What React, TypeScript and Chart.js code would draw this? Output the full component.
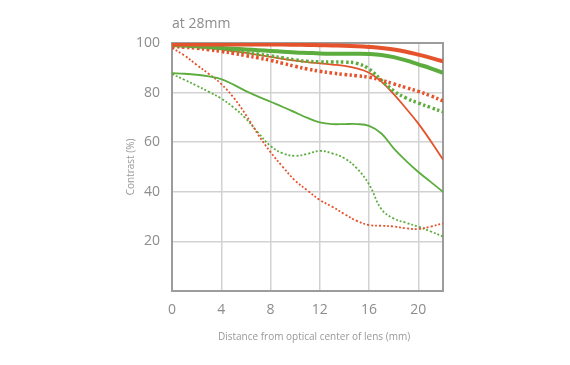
import React, { useEffect, useRef } from "react";
import { Chart, registerables } from "chart.js";

Chart.register(...registerables);

const titleText = "at 28mm";
const xTitle = "Distance from optical center of lens (mm)";
const yTitle = "Contrast (%)";

const distances = [0, 1, 2, 3, 4, 5, 6, 7, 8, 9, 10, 11, 12, 13, 14, 15, 16, 17, 18, 19, 20, 21, 22];
const xTicks = [0, 4, 8, 12, 16, 20];
const yTicks = [20, 40, 60, 80, 100];

const redThickSolid = [99.4, 99.4, 99.4, 99.4, 99.4, 99.4, 99.4, 99.4, 99.4, 99.4, 99.3, 99.2, 99.1, 99, 98.9, 98.7, 98.4, 98, 97.4, 96.5, 95.3, 94, 92.6];
const greenThickSolid = [99.2, 99, 98.7, 98.4, 98, 97.7, 97.4, 97.1, 96.8, 96.5, 96.2, 96, 95.8, 95.7, 95.7, 95.7, 95.6, 95.2, 94.3, 93, 91.4, 89.8, 88];
const redThickDotted = [98.6, 98.3, 97.9, 97.3, 96.6, 95.8, 94.9, 94, 93, 91.8, 90.6, 89.5, 88.6, 87.9, 87.3, 86.8, 86.2, 85, 83.5, 82, 80.5, 78.7, 76.7];
const greenThickDotted = [99, 98.8, 98.4, 97.9, 97.4, 96.8, 96.1, 95.5, 94.8, 94, 93.2, 92.6, 92.4, 92.3, 92.3, 91.8, 89.5, 85, 80.7, 77.8, 75.8, 74, 72.2];
const redThinSolid = [99, 98.7, 98.3, 97.9, 97.4, 96.7, 96, 95.2, 94.4, 93.6, 92.9, 92.3, 91.8, 91.3, 90.8, 89.8, 88, 84.4, 79.4, 73.6, 67.5, 60.5, 53];
const greenThinSolid = [87.8, 87.6, 87.2, 86.5, 85.4, 83.2, 80.6, 78.4, 76.3, 74.2, 72, 69.8, 68, 67.3, 67.3, 67.3, 66.6, 63.5, 57.5, 52.5, 48, 44, 40];
const redThinDotted = [98, 95, 91.2, 87.5, 83.5, 78, 71, 63, 56, 50, 44.5, 40.5, 36.7, 34, 31, 28.3, 26.6, 26.3, 26, 25.3, 25, 26, 27.3];
const greenThinDotted = [87.5, 85.2, 82.8, 80.3, 77.6, 74, 69.5, 63.8, 58.5, 55.5, 54.5, 55.3, 56.5, 55.5, 53.5, 49.5, 43, 33, 29.2, 27.5, 25.9, 24, 22];

const RED = "#e5532c";
const GREEN = "#5cad3e";
const TEXT = "#8c8c8c";
const FONT = "'Open Sans', sans-serif";

const pts = (vals: number[]) => vals.map((v, i) => ({ x: distances[i], y: v }));

export default function App() {
  const ref = useRef<HTMLCanvasElement | null>(null);
  useEffect(() => {
    if (!ref.current) return;
    const mk = (label: string, vals: number[], color: string, width: number, dash: number[]) => ({
      label,
      data: pts(vals),
      borderColor: color,
      backgroundColor: color,
      borderWidth: width,
      borderDash: dash,
      pointRadius: 0,
      fill: false,
      tension: 0.4,
      borderCapStyle: "butt" as const,
    });
    const decor = {
      id: "decor",
      beforeDatasetsDraw(chart: any) {
        const { ctx, chartArea: a } = chart;
        ctx.save();
        ctx.strokeStyle = "#9c9c9c";
        ctx.lineWidth = 2;
        ctx.strokeRect(a.left, a.top, a.right - a.left, a.bottom - a.top);
        ctx.restore();
      },
      afterDraw(chart: any) {
        const { ctx, chartArea: a } = chart;
        ctx.save();
        ctx.fillStyle = TEXT;
        ctx.font = `14px ${FONT}`;
        ctx.textAlign = "left";
        ctx.textBaseline = "middle";
        ctx.fillText(titleText, a.left, 24);
        ctx.font = `10px ${FONT}`;
        ctx.fillStyle = "#999999";
        ctx.textAlign = "center";
        ctx.fillText(xTitle, 314, 337);
        ctx.translate(131, (a.top + a.bottom) / 2);
        ctx.rotate(-Math.PI / 2);
        ctx.fillText(yTitle, 0, 0);
        ctx.restore();
      },
    };
    const chart = new Chart(ref.current, {
      type: "line",
      data: {
        datasets: [
          mk("red thick solid", redThickSolid, RED, 4, []),
          mk("green thick solid", greenThickSolid, GREEN, 4, []),
          mk("red thick dotted", redThickDotted, RED, 3.5, [2.5, 2.5]),
          mk("green thick dotted", greenThickDotted, GREEN, 3.5, [2.5, 2.5]),
          mk("red thin solid", redThinSolid, RED, 1.8, []),
          mk("green thin solid", greenThinSolid, GREEN, 1.8, []),
          mk("red thin dotted", redThinDotted, RED, 1.8, [2, 2]),
          mk("green thin dotted", greenThinDotted, GREEN, 1.8, [2, 2]),
        ],
      },
      options: {
        animation: false,
        responsive: true,
        maintainAspectRatio: false,
        layout: { padding: { left: 0, right: 127, top: 43, bottom: 0 } },
        plugins: { legend: { display: false }, tooltip: { enabled: false }, title: { display: false } },
        scales: {
          x: {
            type: "linear",
            min: 0,
            max: 22,
            afterFit: (s: any) => { s.height = 74; },
            afterBuildTicks: (s: any) => { s.ticks = xTicks.map((v) => ({ value: v })); },
            grid: { color: "#d2d2d2", lineWidth: 1.5, drawTicks: false },
            border: { display: false },
            ticks: { color: TEXT, font: { family: FONT, size: 14 }, padding: 11, maxRotation: 0 },
          },
          y: {
            type: "linear",
            min: 0,
            max: 100,
            afterFit: (s: any) => { s.width = 172; },
            afterBuildTicks: (s: any) => { s.ticks = yTicks.map((v) => ({ value: v })); },
            grid: { color: "#d2d2d2", lineWidth: 1.5, drawTicks: false },
            border: { display: false },
            ticks: { color: TEXT, font: { family: FONT, size: 14 }, padding: 12 },
          },
        },
      },
      plugins: [decor],
    });
    return () => chart.destroy();
  }, []);
  return (
    <div style={{ position: "absolute", left: 0, top: 0, width: 570, height: 365, background: "#fff" }}>
      <canvas ref={ref} />
    </div>
  );
}
